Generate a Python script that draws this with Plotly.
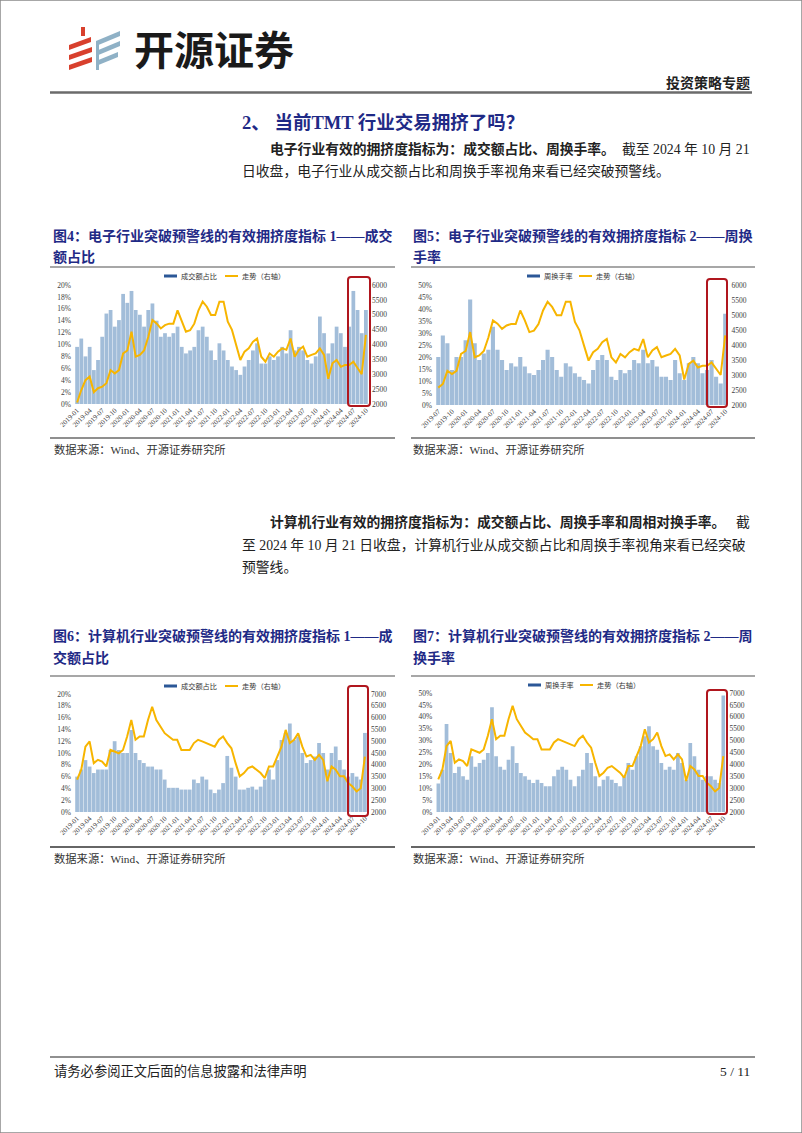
import plotly.graph_objects as go

W, H = 802, 1133
def px(x): return x / W
def py(y): return 1 - y / H

# ---------------- data ----------------
months_all = [f"{y}-{m:02d}" for y in range(2019, 2025) for m in range(1, 13)][:70]
months_jul = months_all[6:]

elec_index = [2050, 2470, 2800, 2920, 2400, 2530, 2580, 2700, 3140, 3030, 3140, 3700,
              3800, 4430, 3590, 3650, 3800, 4250, 4820, 4710, 4540, 4650, 4700, 4700,
              5150, 4820, 4430, 4480, 4700, 5150, 5440, 5270, 4990, 4990, 5440, 5440,
              4770, 4490, 3980, 3480, 3760, 3870, 4090, 4200, 3590, 3420, 3700, 3590,
              3760, 3870, 3820, 4200, 3590, 3820, 3930, 3590, 3650, 3700, 3870, 3650,
              2850, 3370, 3480, 3250, 3310, 3310, 3420, 3200, 3000, 4320]

elec_share = [9.6, 11.0, 8.0, 9.6, 5.7, 7.4, 11.3, 15.2, 15.8, 13.0, 14.1, 18.5,
              17.0, 19.0, 15.8, 15.0, 13.0, 15.8, 16.9, 14.0, 11.3, 11.9, 11.3, 11.9,
              13.0, 9.6, 8.5, 9.0, 9.6, 12.4, 13.0, 11.3, 9.0, 7.4, 10.2, 9.0,
              7.4, 6.3, 5.7, 4.9, 6.3, 7.4, 9.0, 10.2, 6.8, 6.8, 8.0, 7.4,
              8.0, 9.6, 8.5, 12.4, 9.0, 9.6, 9.0, 7.4, 6.8, 8.0, 14.7, 11.9,
              8.5, 10.2, 13.0, 11.9, 9.6, 13.0, 19.0, 15.8, 11.9, 15.8]

elec_turnover = [20, 29, 25.7, 14.6, 20, 20,
                 27, 44, 25.7, 18.8, 21.5, 23, 32.6, 23, 18.8, 14.6, 17.4, 16,
                 20, 16, 13.2, 12.5, 14.6, 18.8, 23, 20, 14.6, 11.8, 17.4, 16,
                 13.2, 11.8, 10.4, 9, 14.6, 18.8, 20.8, 18.8, 11.8, 10.4, 14.6, 13.2,
                 14.6, 18.8, 17.4, 23, 17.4, 18.8, 16, 11.8, 11.8, 10.4, 18.8, 13.2,
                 10.4, 17.4, 20, 17.4, 13.2, 14.6, 18.8, 11.8, 9, 38]

comp_index = [3370, 3790, 4770, 4990, 4070, 4210, 4140, 3930, 4630, 4560, 4490, 4630,
              5200, 5900, 5060, 5200, 5200, 5900, 6460, 5900, 5620, 5340, 5200, 5060,
              5060, 4630, 4630, 4630, 4920, 5060, 4990, 4920, 4850, 4770, 5060, 5200,
              4920, 4700, 4070, 3510, 3650, 3860, 3930, 3790, 3650, 3440, 3930, 3930,
              4350, 4770, 5480, 4920, 5060, 5340, 4770, 4350, 4420, 4210, 4420, 4210,
              3300, 3930, 3790, 3510, 3510, 3230, 3080, 2870, 3010, 4350]

comp_share = [6.0, 7.2, 8.8, 7.7, 6.6, 7.2, 7.2, 7.2, 10.5, 12.0, 10.5, 10.0,
              10.0, 13.9, 10.0, 8.8, 8.3, 7.7, 7.7, 7.2, 7.2, 5.5, 4.1, 4.1,
              4.1, 3.8, 3.8, 3.8, 5.5, 4.9, 6.0, 5.5, 3.8, 3.2, 3.8, 4.9,
              9.5, 7.5, 6.0, 3.8, 3.8, 4.1, 4.3, 3.8, 4.3, 5.5, 7.2, 5.5,
              8.8, 12.2, 13.4, 15.0, 12.2, 12.8, 10.0, 8.3, 8.8, 9.4, 11.7, 10.0,
              7.2, 10.0, 11.1, 8.8, 7.2, 6.0, 6.6, 6.0, 5.5, 13.4]

comp_turnover = [12, 17.8, 37, 24.8, 16.4, 19, 15, 13.6, 23.4, 19, 20.6, 22,
                 24.8, 44, 23.4, 19, 17.8, 22, 27.6, 20.6, 16.4, 15, 13.6, 12.2,
                 13.6, 12.2, 10.8, 10.8, 15, 17.8, 19, 17.8, 13.6, 10.8, 15, 17.8,
                 24.8, 20.6, 15, 10.8, 13.6, 15, 13.6, 12.2, 10.8, 15, 20.6, 17.8,
                 23.4, 27.6, 31.8, 36, 27.6, 26.2, 20.6, 17.8, 19, 17.8, 24.8, 20.6,
                 13.6, 29, 23.4, 17.8, 13.6, 15, 15, 13.6, 12.2, 49]

bar_names = ["成交额占比", "周换手率", "成交额占比", "周换手率"]
line_name = "走势（右轴）"

# ---------------- styles ----------------
BAR_C = "#a2bdd9"
LINE_C = "#f7b500"
LEG_BLUE = "#2b5797"
RED = "#b0161e"
NAVY = "#1f2a86"
SERIF = "Liberation Serif, Noto Sans CJK SC"
TICKFONT = dict(family=SERIF, size=7.5, color="#404040")
XTICKFONT = dict(family=SERIF, size=7, color="#404040")

charts = [
    dict(cats=months_all, bars=elec_share, line=elec_index[:], ymax=20, dy=2, rmax=6000,
         dom=(75, 368), ytop=285, ybot=404, red=(348, 277, 370, 406), legy=276,
         leg=(164, 225)),
    dict(cats=months_jul, bars=elec_turnover, line=elec_index[6:], ymax=50, dy=5, rmax=6000,
         dom=(436, 727.5), ytop=285, ybot=405, red=(707, 279, 727, 407), legy=276,
         leg=(527, 579)),
    dict(cats=months_all, bars=comp_share, line=comp_index[:], ymax=20, dy=2, rmax=7000,
         dom=(75, 367), ytop=694, ybot=812, red=(348, 686, 368, 816), legy=686,
         leg=(164, 225)),
    dict(cats=months_all, bars=comp_turnover, line=comp_index[:], ymax=50, dy=5, rmax=7000,
         dom=(436.2, 725.4), ytop=693, ybot=812, red=(707, 690, 727, 814), legy=685,
         leg=(528, 580)),
]

fig = go.Figure()
layout = dict(width=W, height=H, margin=dict(l=0, r=0, t=0, b=0, pad=0, autoexpand=False),
              autosize=False, paper_bgcolor="white", plot_bgcolor="rgba(0,0,0,0)",
              showlegend=False, bargap=0.1)
shapes = []
annotations = []

def rrect(x0, y0, x1, y1, r=3):
    rx, ry = r / W, r / H
    X0, X1, Y0, Y1 = px(x0), px(x1), py(y0), py(y1)
    return (f"M {X0+rx},{Y0} L {X1-rx},{Y0} Q {X1},{Y0} {X1},{Y0-ry} "
            f"L {X1},{Y1+ry} Q {X1},{Y1} {X1-rx},{Y1} L {X0+rx},{Y1} "
            f"Q {X0},{Y1} {X0},{Y1+ry} L {X0},{Y0-ry} Q {X0},{Y0} {X0+rx},{Y0} Z")

for i, c in enumerate(charts):
    xn = "" if i == 0 else str(i + 1)
    yl = 2 * i + 1
    yr = 2 * i + 2
    yl_s = "" if yl == 1 else str(yl)
    n = len(c["cats"])
    fig.add_trace(go.Bar(x=c["cats"], y=c["bars"], marker=dict(color=BAR_C, line=dict(width=0)),
                         xaxis="x" + xn, yaxis="y" + yl_s, name=bar_names[i]))
    fig.add_trace(go.Scatter(x=c["cats"], y=c["line"], mode="lines",
                             line=dict(color=LINE_C, width=2), xaxis="x" + xn,
                             yaxis="y" + str(yr), name=line_name))
    tv = c["cats"][::3]
    layout["xaxis" + xn] = dict(domain=[px(c["dom"][0]), px(c["dom"][1])], anchor="y" + yl_s,
                                type="category", range=[-0.5, n - 0.5], tickmode="array",
                                tickvals=tv, ticktext=tv, tickangle=-45, tickfont=XTICKFONT,
                                showgrid=False, showline=False, zeroline=False, ticks="",
                                automargin=False)
    yt = list(range(0, c["ymax"] + 1, c["dy"]))
    layout["yaxis" + yl_s] = dict(domain=[py(c["ybot"]), py(c["ytop"])], anchor="x" + xn,
                                  range=[0, c["ymax"]], tickmode="array", tickvals=yt,
                                  ticktext=[f"{v}%" for v in yt], tickfont=TICKFONT,
                                  showgrid=False, showline=False, zeroline=False, ticks="",
                                  ticklabelstandoff=3, automargin=False)
    layout["yaxis" + str(yr)] = dict(overlaying="y" + yl_s, side="right", anchor="x" + xn,
                                     range=[2000, c["rmax"]], dtick=500, tickformat="d",
                                     tickfont=TICKFONT, showgrid=False, showline=False,
                                     zeroline=False, ticks="", ticklabelstandoff=3,
                                     automargin=False)
    x0, y0, x1, y1 = c["red"]
    shapes.append(dict(type="path", xref="paper", yref="paper", path=rrect(x0, y0, x1, y1, 3),
                       line=dict(color=RED, width=2)))
    lb, ly = c["leg"]
    ypos = c["legy"]
    shapes.append(dict(type="line", xref="paper", yref="paper", x0=px(lb), x1=px(lb + 13),
                       y0=py(ypos), y1=py(ypos), line=dict(color=LEG_BLUE, width=3)))
    annotations.append(dict(text=bar_names[i], x=px(lb + 15), y=py(ypos), xref="paper", yref="paper",
                            xanchor="left", yanchor="middle", showarrow=False,
                            font=dict(family=SERIF, size=7.2, color="#333")))
    shapes.append(dict(type="line", xref="paper", yref="paper", x0=px(ly), x1=px(ly + 13),
                       y0=py(ypos), y1=py(ypos), line=dict(color=LINE_C, width=2)))
    annotations.append(dict(text=line_name, x=px(ly + 15), y=py(ypos), xref="paper", yref="paper",
                            xanchor="left", yanchor="middle", showarrow=False,
                            font=dict(family=SERIF, size=7.2, color="#333")))

def hline(x0, x1, y, color, width):
    shapes.append(dict(type="line", xref="paper", yref="paper", x0=px(x0), x1=px(x1),
                       y0=py(y), y1=py(y), line=dict(color=color, width=width)))

def text(t, x, y, size, color="#222", anchor="left", bold=False):
    annotations.append(dict(text=f"<b>{t}</b>" if bold else t, x=px(x), y=py(y), xref="paper",
                            yref="paper", xanchor=anchor, yanchor="middle", showarrow=False,
                            font=dict(family=SERIF, size=size, color=color)))

# page border
shapes.append(dict(type="rect", xref="paper", yref="paper", x0=0, y0=0, x1=1, y1=1,
                   line=dict(color="#8a8a8a", width=1.5)))

# logo
def poly(pts, color):
    d = "M " + " L ".join(f"{px(a)},{py(b)}" for a, b in pts) + " Z"
    shapes.append(dict(type="path", xref="paper", yref="paper", path=d,
                       fillcolor=color, line=dict(width=0)))

RED_L = "#d8402d"
BLUE_L = "#8fb1c6"
poly([(81, 27), (85, 27), (85, 36), (81, 36)], RED_L)
poly([(69, 45), (91, 37), (91, 42), (69, 50)], RED_L)
poly([(69, 55), (92, 47), (92, 52), (69, 60)], RED_L)
poly([(69, 65), (92, 57), (92, 62), (69, 70)], RED_L)
poly([(96, 41), (120, 31), (120, 36), (96, 46)], BLUE_L)
poly([(96, 51), (120, 41), (120, 46), (96, 56)], BLUE_L)
poly([(96, 61), (118, 52), (118, 57), (96, 66)], BLUE_L)
poly([(96, 43), (99, 43), (99, 70), (96, 70)], BLUE_L)
annotations.append(dict(text="<b>开源证券</b>", x=px(132), y=py(48), xref="paper", yref="paper",
                        xanchor="left", yanchor="middle", showarrow=False,
                        font=dict(family="Noto Sans CJK SC", size=40, color="#1a1a1a")))

# header
text("投资策略专题", 752, 83, 14, "#222", "right", True)
hline(50, 752, 92.5, "#6b6b6b", 2.5)

# section title
text("2、 当前TMT 行业交易拥挤了吗？", 240, 122, 18.5, NAVY, "left", True)

# paragraph 1
BODY = 13.8
text("电子行业有效的拥挤度指标为：成交额占比、周换手率。", 268, 149, BODY, bold=True)
text("截至 2024 年 10 月 21", 752, 149, BODY, anchor="right")
text("日收盘，电子行业从成交额占比和周换手率视角来看已经突破预警线。", 240, 171, BODY)

# captions top
CAP = 14
text("图4：电子行业突破预警线的有效拥挤度指标 1——成交", 51, 236, CAP, NAVY, "left", True)
text("额占比", 51, 257, CAP, NAVY, "left", True)
text("图5：电子行业突破预警线的有效拥挤度指标 2——周换", 411, 236, CAP, NAVY, "left", True)
text("手率", 411, 257, CAP, NAVY, "left", True)
hline(50, 395, 267, "#8a8a8a", 1.5)
hline(411, 755, 267, "#8a8a8a", 1.5)
hline(50, 395, 438, "#6a6a6a", 1.5)
hline(411, 755, 438, "#6a6a6a", 1.5)
SRC = 11.3
text("数据来源：Wind、开源证券研究所", 52, 449, SRC, "#333")
text("数据来源：Wind、开源证券研究所", 411, 449, SRC, "#333")

# paragraph 2
text("计算机行业有效的拥挤度指标为：成交额占比、周换手率和周相对换手率。", 268, 522, BODY, bold=True)
text("截", 752, 522, BODY, anchor="right")
text("至 2024 年 10 月 21 日收盘，计算机行业从成交额占比和周换手率视角来看已经突破", 240, 545, BODY)
text("预警线。", 240, 567, BODY)

# captions bottom
text("图6：计算机行业突破预警线的有效拥挤度指标 1——成", 51, 636, CAP, NAVY, "left", True)
text("交额占比", 51, 658, CAP, NAVY, "left", True)
text("图7：计算机行业突破预警线的有效拥挤度指标 2——周", 411, 636, CAP, NAVY, "left", True)
text("换手率", 411, 658, CAP, NAVY, "left", True)
hline(50, 395, 676, "#8a8a8a", 1.5)
hline(411, 755, 676, "#8a8a8a", 1.5)
hline(50, 395, 847, "#333333", 1.5)
hline(411, 755, 847, "#333333", 1.5)
text("数据来源：Wind、开源证券研究所", 52, 858, SRC, "#333")
text("数据来源：Wind、开源证券研究所", 411, 858, SRC, "#333")

# footer
hline(50, 755, 1057, "#222", 1.2)
text("请务必参阅正文后面的信息披露和法律声明", 52, 1071, 13.3, "#222")
text("5 / 11", 752, 1071, 13.5, "#222", "right")

layout["shapes"] = shapes
layout["annotations"] = annotations
fig.update_layout(**layout)

page_js = ("var s=document.createElement('style');"
           "s.textContent='html,body{margin:0!important;padding:0!important;overflow:hidden!important;}"
           ".plotly-graph-div{position:absolute!important;left:0;top:0;}';"
           "document.head.appendChild(s);")
fig.write_html("out.html", post_script=page_js,
               config={"displayModeBar": False, "responsive": False})
